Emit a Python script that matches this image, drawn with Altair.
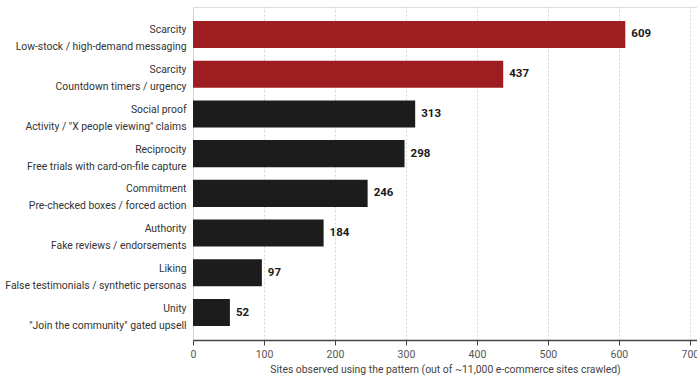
import altair as alt
import pandas as pd

categories = ["Scarcity", "Scarcity", "Social proof", "Reciprocity", "Commitment",
              "Authority", "Liking", "Unity"]
details = ["Low-stock / high-demand messaging", "Countdown timers / urgency",
           "Activity / \"X people viewing\" claims", "Free trials with card-on-file capture",
           "Pre-checked boxes / forced action", "Fake reviews / endorsements",
           "False testimonials / synthetic personas", "\"Join the community\" gated upsell"]
values = [609, 437, 313, 298, 246, 184, 97, 52]
highlight = [True, True, False, False, False, False, False, False]
x_ticks = [0, 100, 200, 300, 400, 500, 600, 700]

df = pd.DataFrame({
    "label": [f"{c}|{d}" for c, d in zip(categories, details)],
    "value": values,
    "group": ["hi" if h else "lo" for h in highlight],
})
order = list(df["label"])
FONT = "Roboto"

y = alt.Y("label:N", sort=order, title=None,
          scale=alt.Scale(paddingInner=0.32, paddingOuter=0.35),
          axis=alt.Axis(labelExpr="split(datum.label, '|')", labelLineHeight=17,
                        labelFontSize=10.4, labelColor="#333333", labelFont=FONT,
                        ticks=False, domain=False, labelPadding=7, labelLimit=300,
                        labelOffset=-4))
x = alt.X("value:Q", title="Sites observed using the pattern (out of ~11,000 e-commerce sites crawled)",
          scale=alt.Scale(domain=[0, 710], nice=False),
          axis=alt.Axis(values=x_ticks, grid=True, gridDash=[2, 2], gridColor="#cccccc",
                        gridWidth=0.8, domainColor="#444444", domainWidth=1.5,
                        tickColor="#444444", tickSize=5, tickWidth=1,
                        labelFontSize=10.5, labelColor="#555555", labelFont=FONT,
                        titleFontSize=10.4, titleColor="#444444", titleFont=FONT,
                        titleFontWeight="normal", labelPadding=4, titlePadding=5,
                        labelFlush=False))

bars = alt.Chart(df).mark_bar().encode(
    x=x, y=y,
    color=alt.Color("group:N", scale=alt.Scale(domain=["hi", "lo"], range=["#9e1d20", "#1c1c1c"]),
                    legend=None),
)
text = alt.Chart(df).mark_text(align="left", dx=6, fontWeight="bold", fontSize=11.5,
                               font=FONT, color="#1a1a1a").encode(
    x="value:Q", y=alt.Y("label:N", sort=order), text="value:Q")

chart = (bars + text).properties(
    width=504, height=333,
    autosize=alt.AutoSizeParams(type="none"),
    padding={"left": 193, "top": 7, "right": 0, "bottom": 41},
).configure_view(stroke=None).configure(font=FONT)

chart.save("out.html", embed_options={"renderer": "svg", "actions": False})
